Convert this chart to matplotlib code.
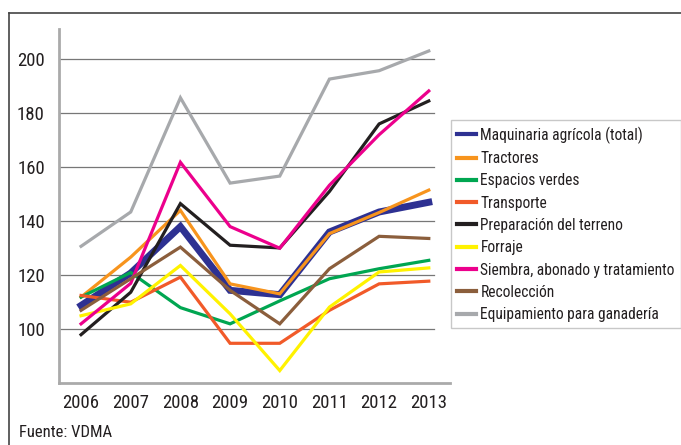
import matplotlib
matplotlib.use("Agg")
import matplotlib.pyplot as plt
from matplotlib.lines import Line2D

plt.rcParams['font.family'] = ['Roboto Condensed', 'DejaVu Sans']
plt.rcParams['font.stretch'] = 'condensed'

# Data
years = ['2006', '2007', '2008', '2009', '2010', '2011', '2012', '2013']

maquinaria = [108.8, 120.8, 138.0, 114.4, 112.8, 136.0, 143.4, 147.0]
tractores = [111.9, 126.7, 144.0, 116.8, 113.1, 135.4, 143.2, 151.5]
espacios_verdes = [111.9, 121.0, 108.0, 102.0, 110.5, 118.7, 122.4, 125.5]
transporte = [112.5, 110.0, 119.3, 94.8, 94.8, 107.0, 116.8, 117.8]
preparacion = [98.0, 113.7, 146.5, 131.1, 130.1, 151.0, 176.0, 184.5]
forraje = [105.0, 109.4, 123.6, 105.7, 84.7, 108.2, 121.2, 122.7]
siembra = [102.0, 117.0, 161.8, 138.0, 130.0, 153.3, 172.0, 188.2]
recoleccion = [107.0, 118.7, 130.4, 114.4, 102.0, 122.4, 134.4, 133.6]
ganaderia = [130.7, 143.4, 185.7, 154.1, 156.7, 192.6, 195.7, 203.0]

series = [
    ("Maquinaria agrícola (total)", maquinaria, '#2e3192', 5.0),
    ("Tractores", tractores, '#f7941d', 2.3),
    ("Espacios verdes", espacios_verdes, '#00a651', 2.3),
    ("Transporte", transporte, '#f15a29', 2.3),
    ("Preparación del terreno", preparacion, '#231f20', 2.3),
    ("Forraje", forraje, '#fff200', 2.3),
    ("Siembra, abonado y tratamiento", siembra, '#ec008c', 2.3),
    ("Recolección", recoleccion, '#8b5e3c', 2.3),
    ("Equipamiento para ganadería", ganaderia, '#a7a9ac', 2.3),
]

fig = plt.figure(figsize=(6.81, 4.45), dpi=100)
ax = fig.add_axes([0.0862, 0.1387, 0.5748, 0.7953])

x = list(range(len(years)))

# gridlines (not at the bottom value)
for g in [100, 120, 140, 160, 180, 200]:
    ax.axhline(g, xmin=0, xmax=0.959, color='#777777', lw=0.9, zorder=1)

handles = []
for name, vals, color, lw in series:
    ax.plot(x, vals, color=color, lw=lw, solid_joinstyle='miter', zorder=3)
    handles.append(Line2D([0], [0], color=color, lw=3.0, label=name))

ax.set_xlim(-0.45, 7.43)
ax.set_ylim(80, 211)
ax.set_yticks([100, 120, 140, 160, 180, 200])
ax.set_xticks(x)
ax.set_xticklabels(years)
ax.tick_params(axis='both', length=0, labelsize=13.5, colors='#231f20')
ax.tick_params(axis='y', pad=10)
ax.tick_params(axis='x', pad=8)

for s in ['top', 'right']:
    ax.spines[s].set_visible(False)
for s in ['left', 'bottom']:
    ax.spines[s].set_color('#aaaaaa')
    ax.spines[s].set_linewidth(2.0)

leg = fig.legend(handles=handles, loc='upper left',
                 bbox_to_anchor=(0.662, 0.730), fontsize=11.2,
                 frameon=True, fancybox=False, handlelength=1.2,
                 handletextpad=0.3, labelspacing=0.47, borderpad=0.4,
                 borderaxespad=0)
leg.get_frame().set_edgecolor('#bbbbbb')
leg.get_frame().set_linewidth(1.0)
for t in leg.get_texts():
    t.set_color('#231f20')

fig.text(0.028, 0.012, "Fuente: VDMA", fontsize=12, color='#231f20',
         ha='left', va='bottom')

# outer frame (left and top edges)
fig.add_artist(Line2D([0.0125, 0.0125], [0, 0.970], transform=fig.transFigure,
                      color='#444444', lw=1.2))
fig.add_artist(Line2D([0.0125, 1.0], [0.970, 0.970], transform=fig.transFigure,
                      color='#444444', lw=1.2))

fig.savefig("out.png", dpi=100)
